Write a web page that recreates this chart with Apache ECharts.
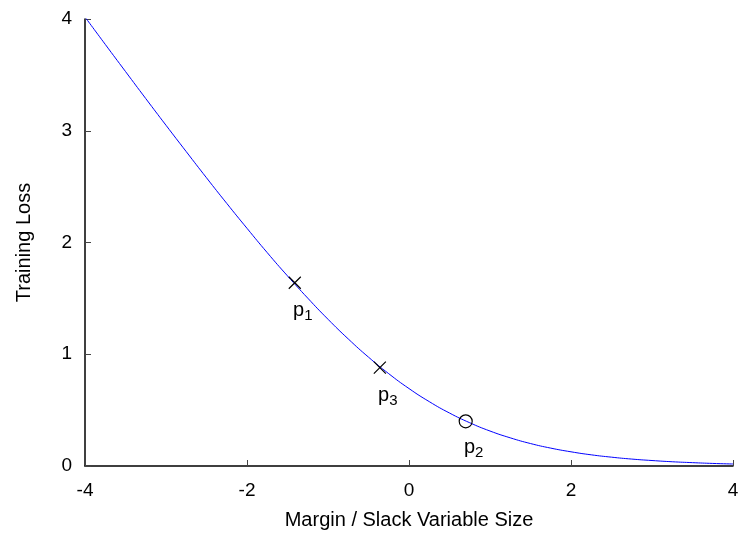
<!DOCTYPE html>
<html>
<head>
<meta charset="utf-8">
<script src="https://cdn.jsdelivr.net/npm/echarts@6/dist/echarts.min.js"></script>
<style>
html,body{margin:0;padding:0;background:#fff;}
#main{width:742px;height:535px;}
</style>
</head>
<body>
<div id="main"></div>
<script>
// curve
var lossX = [-4, -3.75, -3.5, -3.25, -3, -2.75, -2.5, -2.25, -2, -1.75, -1.5, -1.25, -1, -0.75, -0.5, -0.25,
    0, 0.25, 0.5, 0.75, 1, 1.25, 1.5, 1.75, 2, 2.25, 2.5, 2.75, 3, 3.25, 3.5, 3.75, 4];
var lossY = [4.018, 3.773, 3.530, 3.288, 3.049, 2.813, 2.579, 2.350, 2.127, 1.909, 1.701, 1.502, 1.313, 1.137, 0.974, 0.826,
    0.693, 0.576, 0.474, 0.387, 0.313, 0.252, 0.201, 0.160, 0.127, 0.100, 0.079, 0.062, 0.049, 0.038, 0.030, 0.023, 0.018];

var crossPts = [[-1.41, 1.64, '1'], [-0.36, 0.88, '3']];
var circlePts = [[0.70, 0.40, '2']];

var curve = lossX.map(function (x, i) { return [x, lossY[i]]; });

var crossPath = 'path://M0,0L10,10M10,0L0,10';
var font = '"Liberation Sans", Arial, sans-serif';

var labelOpt = {
    show: true,
    position: 'bottom',
    offset: [8, 1],
    color: '#000',
    formatter: function (p) { return '{p|p}{s|' + p.value[2] + '}'; },
    rich: {
        p: {fontSize: 20, fontFamily: font, color: '#000'},
        s: {fontSize: 15, fontFamily: font, color: '#000', verticalAlign: 'bottom', padding: [11, 0, 0, 0]}
    }
};

var chart = echarts.init(document.getElementById('main'));
chart.setOption({
    animation: false,
    grid: {left: 85, right: 9, top: 19, bottom: 69, containLabel: false, outerBoundsMode: 'none'},
    xAxis: {
        type: 'value',
        min: -4, max: 4, interval: 2,
        name: 'Margin / Slack Variable Size',
        nameLocation: 'middle',
        nameGap: 44,
        nameTextStyle: {fontSize: 20, fontFamily: font, color: '#000'},
        axisLine: {onZero: false, lineStyle: {color: '#000', width: 1.5}},
        axisTick: {inside: true, length: 6, lineStyle: {color: '#444'}},
        axisLabel: {fontSize: 19, fontFamily: font, color: '#000', margin: 15},
        splitLine: {show: false}
    },
    yAxis: {
        type: 'value',
        min: 0, max: 4, interval: 1,
        name: 'Training Loss',
        nameLocation: 'middle',
        nameGap: 51,
        nameTextStyle: {fontSize: 20, fontFamily: font, color: '#000'},
        axisLine: {show: true, onZero: false, lineStyle: {color: '#000', width: 1.5}},
        axisTick: {show: true, inside: true, length: 6, lineStyle: {color: '#444'}},
        axisLabel: {fontSize: 19, fontFamily: font, color: '#000', margin: 13},
        splitLine: {show: false}
    },
    series: [
        {
            type: 'line',
            data: curve,
            smooth: true,
            showSymbol: false,
            lineStyle: {color: '#0000ff', width: 1},
            z: 2
        },
        {
            type: 'scatter',
            data: crossPts,
            symbol: crossPath,
            symbolSize: 12,
            itemStyle: {color: 'none', borderColor: '#000', borderWidth: 1.2, opacity: 1},
            label: labelOpt,
            z: 3
        },
        {
            type: 'scatter',
            data: circlePts,
            symbol: 'circle',
            symbolSize: 13,
            itemStyle: {color: 'rgba(0,0,0,0)', borderColor: '#000', borderWidth: 1.2, opacity: 1},
            label: labelOpt,
            z: 3
        }
    ]
});
</script>
</body>
</html>
